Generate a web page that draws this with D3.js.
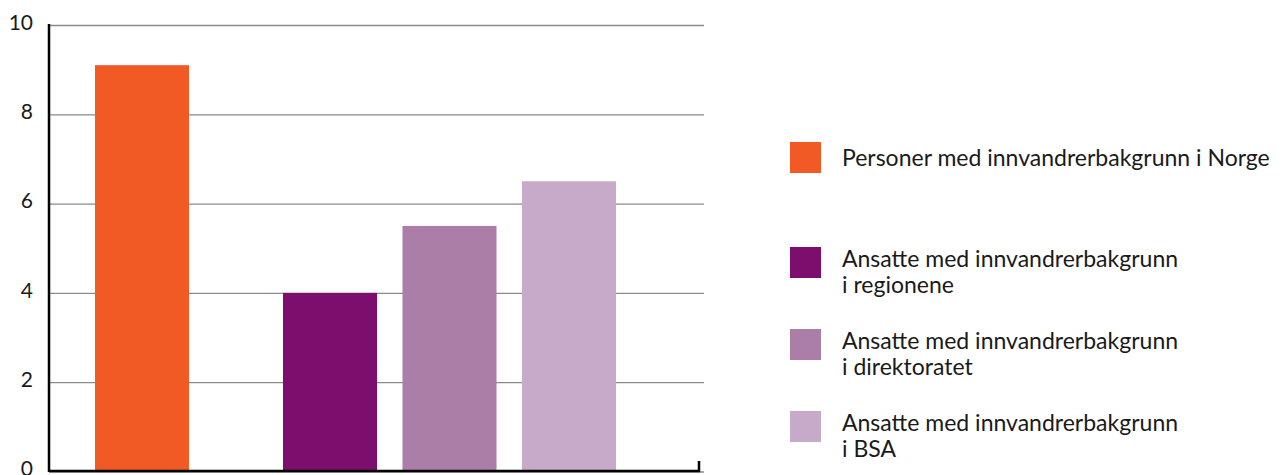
<!DOCTYPE html>
<html>
<head>
<meta charset="utf-8">
<script src="https://cdn.jsdelivr.net/npm/d3@7"></script>
<style>
  body { margin: 0; background: #fff; }
  text { font-family: Lato, "Open Sans", sans-serif; fill: #1a1a1a; }
</style>
</head>
<body>
<svg width="1285" height="475"></svg>
<script>
// data
const categories = ['Norge', 'Regionene', 'Direktoratet', 'BSA'];
const groupOf    = ['pop', 'staff', 'staff', 'staff'];
const values     = [9.1, 4.0, 5.5, 6.5];
const colors     = ['#F15A24', '#7D0E6E', '#AB7EA8', '#C7A9CA'];
const legendLabels = [
  ['Personer med innvandrerbakgrunn i Norge'],
  ['Ansatte med innvandrerbakgrunn', 'i regionene'],
  ['Ansatte med innvandrerbakgrunn', 'i direktoratet'],
  ['Ansatte med innvandrerbakgrunn', 'i BSA']
];
const yTicks = [0, 2, 4, 6, 8, 10];

const svg = d3.select('svg');
const margin = { top: 25, left: 49, right: 583, bottom: 3 };
const width  = +svg.attr('width');
const height = +svg.attr('height');
const plotRight = width - margin.right;
const plotBottom = height - margin.bottom;

const data = categories.map((c, i) => ({ cat: c, group: groupOf[i], value: values[i], color: colors[i] }));

const yScale = d3.scaleLinear().domain([0, 10]).range([plotBottom - 0.5, margin.top]);

// group extents on x, inner band scale per group
const groupRange = { pop: [95, 189], staff: [283, 616] };
const inner = {};
Object.keys(groupRange).forEach(g => {
  inner[g] = d3.scaleBand()
    .domain(data.filter(d => d.group === g).map(d => d.cat))
    .range(groupRange[g])
    .paddingInner(g === 'staff' ? 0.213 : 0);
});

// gridlines + tick labels
const yAxis = d3.axisLeft(yScale).tickValues(yTicks).tickSize(-(plotRight + 2 - margin.left)).tickPadding(16);
const yAxisG = svg.append('g').attr('transform', `translate(${margin.left},0)`).call(yAxis);
yAxisG.select('.domain').remove();
yAxisG.selectAll('.tick line').attr('stroke', '#8a8a8a').attr('stroke-width', 1.3);
yAxisG.selectAll('.tick text')
  .style('font-size', '21px')
  .attr('dy', '0.2em')
  .attr('fill', '#1a1a1a');

// bars
svg.append('g').selectAll('rect').data(data).join('rect')
  .attr('x', d => inner[d.group](d.cat))
  .attr('width', d => inner[d.group].bandwidth())
  .attr('y', d => yScale(d.value))
  .attr('height', d => yScale(0) - yScale(d.value))
  .attr('fill', d => d.color);

// axes lines
svg.append('line')
  .attr('x1', margin.left).attr('x2', margin.left)
  .attr('y1', margin.top - 1).attr('y2', plotBottom)
  .attr('stroke', '#000').attr('stroke-width', 2.5);
svg.append('path')
  .attr('d', `M${margin.left},${plotBottom - 1}H${plotRight - 3}V${plotBottom - 11}`)
  .attr('fill', 'none')
  .attr('stroke', '#000').attr('stroke-width', 2.5);

// legend
const legendY = [142, 247, 329, 411];
const lg = svg.append('g').selectAll('g').data(data).join('g')
  .attr('transform', (d, i) => `translate(790,${legendY[i]})`);
lg.append('rect').attr('width', 31).attr('height', 31).attr('fill', d => d.color);
lg.each(function(d, i) {
  const lines = legendLabels[i];
  const t = d3.select(this).append('text')
    .attr('x', 52)
    .style('font-size', '23px');
  lines.forEach((l, j) => {
    t.append('tspan').attr('x', 52)
      .attr('y', lines.length === 1 ? 24 : 20 + j * 26)
      .text(l);
  });
});
</script>
</body>
</html>
